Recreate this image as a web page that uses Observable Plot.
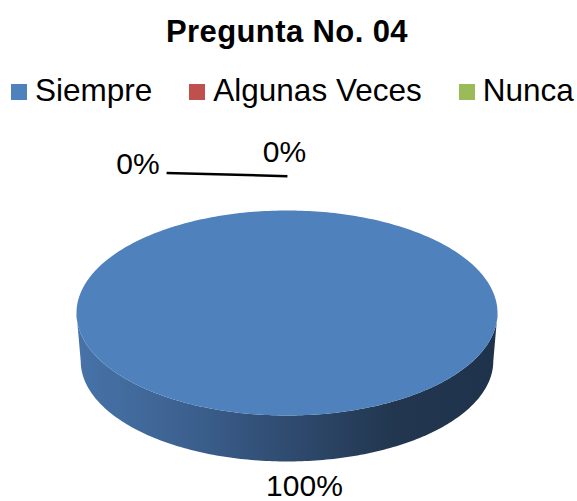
<!DOCTYPE html>
<html>
<head>
<meta charset="utf-8">
<script src="https://cdn.jsdelivr.net/npm/d3@7"></script>
<script src="https://cdn.jsdelivr.net/npm/@observablehq/plot@0.6"></script>
<style>
  body { margin: 0; background: #fff; font-family: "Liberation Sans", Arial, sans-serif; }
  #wrap { position: relative; width: 577px; height: 501px; overflow: hidden; background: #fff; }
  #title { position: absolute; left: 0; top: 16px; width: 574px; text-align: center;
           font-weight: bold; font-size: 31px; letter-spacing: 0.4px; line-height: 31px; color: #000; white-space: nowrap; }
  #legend { position: absolute; left: 11px; top: 75px; display: flex; align-items: center;
            font-size: 31.5px; line-height: 31px; color: #000; white-space: nowrap; }
  .item { display: flex; align-items: center; margin-right: 37px; }
  .sw { width: 16px; height: 16px; margin-right: 8px; position: relative; top: 1px; }
  #chart { position: absolute; left: 0; top: 120px; }
</style>
</head>
<body>
<div id="wrap">
  <div id="title"></div>
  <div id="legend"></div>
  <div id="chart"></div>
</div>
<script>
// ---- data ----
const titleText = "Pregunta No. 04";
const categories = ["Siempre", "Algunas Veces", "Nunca"];
const values = [100, 0, 0];
const colors = ["#4F81BD", "#C0504D", "#9BBB59"];
const labels = ["100%", "0%", "0%"];

// ---- title & legend ----
document.getElementById("title").textContent = titleText;
const legend = d3.select("#legend");
categories.forEach((c, i) => {
  const it = legend.append("div").attr("class", "item");
  it.append("div").attr("class", "sw").style("background", colors[i]);
  it.append("span").text(c);
});

// ---- 3D pie geometry (unit radius) ----
const tilt = 0.487;      // ellipse ry/rx
const depth = 0.228;     // side thickness
const persp = 0.98;      // bottom ellipse scale
const TAU = 2 * Math.PI;
const arcs = d3.pie().sort(null).startAngle(0).endAngle(TAU)(values);

const topPt = a => ({x: Math.sin(a), y: -Math.cos(a) * tilt});
const botPt = a => ({x: Math.sin(a) * persp, y: -Math.cos(a) * tilt * persp + depth});

function sample(a0, a1, f, n = 180) {
  const pts = [];
  for (let i = 0; i <= n; i++) pts.push(f(a0 + (a1 - a0) * i / n));
  return pts;
}

// top faces
const topFaces = [];
arcs.forEach((d, i) => {
  if (d.endAngle - d.startAngle <= 0) return;
  const pts = [{x: 0, y: 0}, ...sample(d.startAngle, d.endAngle, topPt, 360)];
  pts.forEach(p => { p.cat = categories[i]; });
  topFaces.push(...pts);
});

// side faces (front half: angles pi/2 .. 3pi/2)
const sideFaces = [];
arcs.forEach((d, i) => {
  const a0 = Math.max(d.startAngle, Math.PI / 2);
  const a1 = Math.min(d.endAngle, 3 * Math.PI / 2);
  if (a1 <= a0) return;
  const pts = [...sample(a0, a1, topPt), ...sample(a1, a0, botPt)];
  pts.forEach(p => { p.cat = categories[i]; });
  sideFaces.push(...pts);
});

// labels: positioned relative to each slice's rim point
const labelData = arcs.map((d, i) => {
  const mid = (d.startAngle + d.endAngle) / 2;
  const rim = topPt(mid);
  let x, y;
  if (i === 0) { const b = botPt(mid); x = b.x + 0.083; y = b.y + 0.118; }
  else if (i === 1) { x = rim.x - 0.708; y = rim.y - 0.218; }
  else { x = rim.x - 0.012; y = rim.y - 0.2755; }
  return {x, y, label: labels[i], cat: categories[i], rim};
});
const leader = [{
  x1: labelData[1].rim.x - 0.572, y1: labelData[1].rim.y - 0.178,
  x2: labelData[1].rim.x + 0.002, y2: labelData[1].rim.y - 0.163
}];

// ---- plot ----
const W = 577, H = 381, R = 210.5, CX = 286.5, CY = 192.5;
const defs = () => {
  const g = d3.create("svg:defs");
  const lg = g.append("linearGradient").attr("id", "sideGrad")
    .attr("x1", "0").attr("x2", "1").attr("y1", "0").attr("y2", "0");
  [[0, "#4773a9"], [0.25, "#3d6291"], [0.5, "#2f4b70"], [0.75, "#22374f"], [1, "#1f324c"]]
    .forEach(([o, c]) => lg.append("stop").attr("offset", o).attr("stop-color", c));
  return g.node();
};

const chart = Plot.plot({
  width: W, height: H,
  marginTop: 0, marginRight: 0, marginBottom: 0, marginLeft: 0,
  x: {domain: [-CX / R, (W - CX) / R], range: [0, W], axis: null},
  y: {domain: [-CY / R, (H - CY) / R], range: [0, H], axis: null},
  style: {background: "transparent", overflow: "visible"},
  marks: [
    defs,
    Plot.line(sideFaces, {x: "x", y: "y", z: "cat", fill: "url(#sideGrad)", stroke: "none", curve: "linear"}),
    Plot.line(topFaces, {x: "x", y: "y", z: "cat", fill: colors[0], stroke: "none", curve: "linear"}),
    Plot.link(leader, {x1: "x1", y1: "y1", x2: "x2", y2: "y2", stroke: "#000", strokeWidth: 2.5}),
    Plot.text(labelData, {x: "x", y: "y", text: "label", fontSize: 30, fill: "#000",
      fontFamily: "Liberation Sans, Arial, sans-serif", textAnchor: "middle", lineAnchor: "middle"})
  ]
});
document.getElementById("chart").appendChild(chart);
</script>
</body>
</html>
